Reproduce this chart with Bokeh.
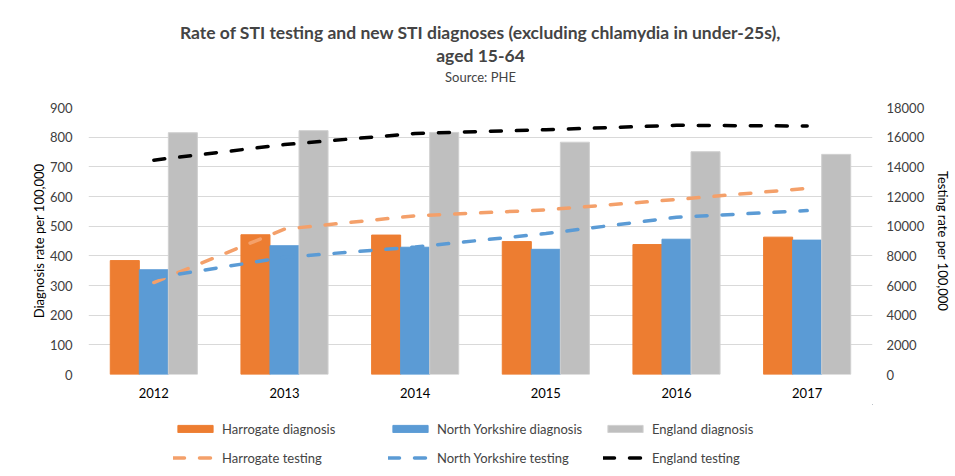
from bokeh.plotting import figure
from bokeh.layouts import column
from bokeh.models import (FactorRange, Range1d, LinearAxis, SingleIntervalTicker,
                          Legend, LegendItem, Title, ColumnDataSource)
from bokeh.transform import dodge
from bokeh.embed import file_html
from bokeh.resources import INLINE

# ---- data ----
years = ["2012", "2013", "2014", "2015", "2016", "2017"]
harrogate_diag = [384, 471, 470, 448, 438, 463]
ny_diag = [353, 434, 429, 422, 456, 453]
england_diag = [815, 822, 816, 783, 751, 742]
harrogate_test = [6200, 9800, 10700, 11100, 11800, 12550]
ny_test = [6500, 7900, 8600, 9500, 10600, 11050]
england_test = [14450, 15500, 16250, 16500, 16800, 16750]

series_labels = ["Harrogate diagnosis", "North Yorkshire diagnosis", "England diagnosis",
                 "Harrogate testing", "North Yorkshire testing", "England testing"]
title_line1 = "Rate of STI testing and new STI diagnoses (excluding chlamydia in under-25s),"
title_line2 = "aged 15-64"
source_text = "Source: PHE"

FONT = "Lato"
ORANGE = "#ED7D31"
BLUE = "#5B9BD5"
GREY = "#BFBFBF"
ORANGE_L = "#F4A06A"
BLUE_L = "#5B9BD5"
DASH = "11 15"

src = ColumnDataSource(dict(year=years, h=harrogate_diag, n=ny_diag, e=england_diag,
                            ht=harrogate_test, nt=ny_test, et=england_test))

p = figure(x_range=FactorRange(*years, range_padding=0), y_range=Range1d(0, 900),
           frame_width=784, frame_height=267,
           min_border_left=88, min_border_right=83, min_border_top=107, min_border_bottom=30,
           output_backend="svg", toolbar_location=None)
p.extra_y_ranges = {"test": Range1d(0, 18000)}
p.outline_line_color = None
p.background_fill_color = "white"
p.border_fill_color = "white"

bw = 1 / 4.5
bar_styles = [dict(fill_color=ORANGE, line_color=ORANGE),
              dict(fill_color=BLUE, line_color=BLUE),
              dict(fill_color=GREY, line_color="#D0D0D0")]
line_styles = [dict(line_color=ORANGE_L), dict(line_color=BLUE_L), dict(line_color="black")]

p.vbar(x=dodge("year", -bw, range=p.x_range), top="h", width=bw, source=src, **bar_styles[0])
p.vbar(x=dodge("year", 0, range=p.x_range), top="n", width=bw, source=src, **bar_styles[1])
p.vbar(x=dodge("year", bw, range=p.x_range), top="e", width=bw, source=src, **bar_styles[2])

for col, st in zip(["ht", "nt", "et"], line_styles):
    p.line("year", col, source=src, y_range_name="test", line_width=3.5,
           line_dash=DASH, line_cap="round", **st)

# axes
p.yaxis.ticker = SingleIntervalTicker(interval=100)
p.yaxis.axis_label = "Diagnosis rate per 100,000"
right = LinearAxis(y_range_name="test", ticker=SingleIntervalTicker(interval=2000),
                   axis_label="Testing rate per 100,000")
p.add_layout(right, "right")

for ax in [p.yaxis[0], right, p.xaxis[0]]:
    ax.axis_line_color = None
    ax.major_tick_line_color = None
    ax.minor_tick_line_color = None
    ax.major_label_text_font = FONT
    ax.major_label_text_font_size = "13px"
    ax.major_label_text_color = "#404040"
    ax.axis_label_text_font = FONT
    ax.axis_label_text_font_size = "13px"
    ax.axis_label_text_font_style = "normal"
    ax.axis_label_text_color = "#000000"
p.xaxis.major_label_text_color = "#000000"
p.yaxis.major_label_standoff = 10
right.major_label_standoff = 8
p.yaxis.axis_label_standoff = 0
right.axis_label_standoff = 8
p.xaxis.major_label_standoff = 7

p.xgrid.grid_line_color = None
p.ygrid.grid_line_color = "#D9D9D9"
p.ygrid.grid_line_width = 1

# titles (first added is closest to the plot)
p.add_layout(Title(text=" ", align="center", text_font=FONT, text_font_size="1px",
                   standoff=19), "above")
p.add_layout(Title(text=source_text, align="center", text_font=FONT, text_font_size="13px",
                   text_font_style="normal", standoff=2), "above")
p.add_layout(Title(text=title_line2, align="center", text_font=FONT, text_font_size="17.5px",
                   text_font_style="bold", standoff=0), "above")
p.add_layout(Title(text=title_line1, align="center", text_font=FONT, text_font_size="17.5px",
                   text_font_style="bold", standoff=0), "above")

# legend strip (separate canvas below the chart; its renderers lie outside its view)
lf = figure(width=955, height=72, min_border=0, x_axis_location=None, y_axis_location=None,
            x_range=Range1d(-2, -1), y_range=Range1d(-2, -1),
            output_backend="svg", toolbar_location=None)
lf.grid.visible = False
lf.outline_line_color = None
lf.border_fill_color = "white"
lf.background_fill_color = "white"
leg_renderers = []
for col, st in zip(["h", "n", "e"], bar_styles):
    leg_renderers.append(lf.vbar(x=col, top=col, width=0.5, source=src, **st))
for col, st in zip(["ht", "nt", "et"], line_styles):
    leg_renderers.append(lf.line(x=col, y=col, source=src, line_width=3.5, line_dash=DASH,
                                 line_cap="round", **st))

legend = Legend(items=[LegendItem(label=lab, renderers=[r])
                       for lab, r in zip(series_labels, leg_renderers)],
                orientation="horizontal", ncols=3, location=(85, 4),
                glyph_width=44, glyph_height=9, label_standoff=5, label_width=166,
                label_height=29, spacing=0, padding=0, margin=0,
                border_line_color=None, background_fill_alpha=0,
                label_text_font=FONT, label_text_font_size="13px")
lf.add_layout(legend, "center")

page = column(p, lf, spacing=0)
open("out.html", "w").write(file_html(page, INLINE))
